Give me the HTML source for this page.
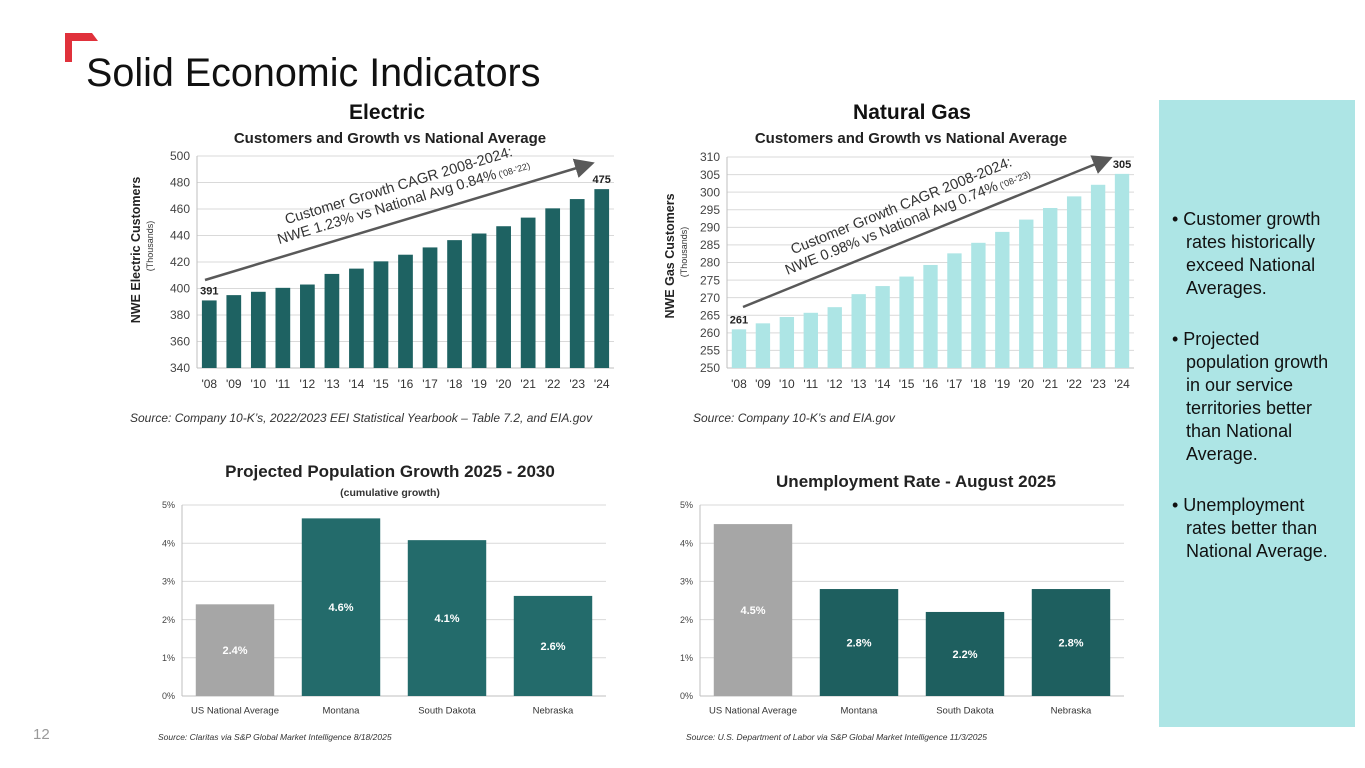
<!DOCTYPE html>
<html><head><meta charset="utf-8"><style>
body{margin:0;width:1365px;height:768px;background:#fff;position:relative;overflow:hidden;font-family:"Liberation Sans",sans-serif}
.abs{position:absolute}
svg text{font-family:"Liberation Sans",sans-serif}
</style></head><body>
<svg class="abs" style="left:0;top:0" width="1365" height="768">
<polygon points="65,33 92,33 98,41 72,41 72,62 65,62" fill="#e0313b"/>
<text x="86" y="86" font-size="39.5" fill="#111">Solid Economic Indicators</text>
<text x="33" y="739" font-size="15" fill="#999">12</text>
<rect x="1159" y="100" width="196" height="627" fill="#ade5e5"/>
<g id="charts"></g>
</svg>
<div class="abs" style="left:1172px;top:208px;width:168px;font-size:18px;line-height:23px;color:#111">
<div style="padding-left:14px;text-indent:-14px">• Customer growth rates historically exceed National Averages.</div>
<div style="padding-left:14px;text-indent:-14px;margin-top:28px">• Projected population growth in our service territories better than National Average.</div>
<div style="padding-left:14px;text-indent:-14px;margin-top:28px">• Unemployment rates better than National Average.</div>
</div>
<script>
const years=["'08","'09","'10","'11","'12","'13","'14","'15","'16","'17","'18","'19","'20","'21","'22","'23","'24"];
const elecValues=[391,395,397.5,400.5,403,411,415,420.5,425.5,431,436.5,441.5,447,453.5,460.5,467.5,475];
const elecTicks=[340,360,380,400,420,440,460,480,500];
const gasValues=[261,262.7,264.5,265.7,267.3,271,273.3,276,279.3,282.6,285.6,288.7,292.2,295.5,298.8,302.1,305.2];
const gasTicks=[250,255,260,265,270,275,280,285,290,295,300,305,310];
const popCats=["US National Average","Montana","South Dakota","Nebraska"];
const popValues=[2.4,4.65,4.08,2.62];
const popLabels=["2.4%","4.6%","4.1%","2.6%"];
const unempCats=["US National Average","Montana","South Dakota","Nebraska"];
const unempValues=[4.5,2.8,2.2,2.8];
const unempLabels=["4.5%","2.8%","2.2%","2.8%"];
const pctTicks=[0,1,2,3,4,5];
const NS='http://www.w3.org/2000/svg';
const root=document.getElementById('charts');
function mk(tag,attrs,parent,txt){const e=document.createElementNS(NS,tag);for(const k in attrs)e.setAttribute(k,attrs[k]);if(txt!==undefined)e.textContent=txt;(parent||root).appendChild(e);return e;}
function chart(o){
  const g=mk('g',{});
  
  
  const lo=o.ticks[0],hi=o.ticks[o.ticks.length-1];
  const y=v=>o.y0-(v-lo)/(hi-lo)*(o.y0-o.y1);
  const n=o.cats.length,step=(o.x1-o.x0)/n;
  const x=i=>o.x0+step*i+step/2;
  o.ticks.forEach((t,i)=>{
    if(i>0){const l=mk('line',{x1:o.x0,x2:o.x1,y1:y(t),y2:y(t),stroke:'#d9d9d9','stroke-width':1},g);}
    const tx=mk('text',{x:o.x0-7,y:y(t)+o.tfs*0.35,'text-anchor':'end','font-size':o.tfs,fill:'#444'},g,o.tickFmt(t));
    
  });
  const ax=mk('line',{x1:o.x0,x2:o.x1,y1:o.y0,y2:o.y0,stroke:'#bfbfbf'},g);
  const ay=mk('line',{x1:o.x0,x2:o.x0,y1:o.y0,y2:o.y1,stroke:'#bfbfbf'},g);
  o.cats.forEach((c,i)=>{
    const v=o.values[i],bw=step*o.bwr;
    const r=mk('rect',{x:x(i)-bw/2,y:y(v),width:bw,height:o.y0-y(v),fill:o.color(i)},g);
    
    const t=mk('text',{x:x(i),y:o.y0+o.cfs+8,'text-anchor':'middle','font-size':o.cfs,fill:'#333'},g,c);
    
    if(o.labels){const l=mk('text',{x:x(i),y:(y(v)+o.y0)/2+4,'text-anchor':'middle','font-size':11,'font-weight':'bold',fill:'#fff'},g,o.labels[i]);}
    if(o.endLabels&&(i===0||i===n-1)){const l=mk('text',{x:x(i),y:y(v)-6,'text-anchor':'middle','font-size':11,'font-weight':'bold',fill:'#222'},g,String(Math.round(v)));}
  });
  return {g,x,y};
}
const teal='#1e6262';
const e=chart({name:'electric-chart',cats:years,values:elecValues,ticks:elecTicks,x0:197,x1:614,y0:368,y1:156,bwr:0.6,color:()=>teal,tfs:12,cfs:12,tickFmt:t=>t,endLabels:true});
const gs=chart({name:'gas-chart',cats:years,values:gasValues,ticks:gasTicks,x0:727,x1:1134,y0:368,y1:157,bwr:0.6,color:()=>'#ade5e5',tfs:12,cfs:12,tickFmt:t=>t,endLabels:true});
const p=chart({name:'population-chart',cats:popCats,values:popValues,ticks:pctTicks,x0:182,x1:606,y0:696,y1:505,bwr:0.74,color:i=>i===0?'#a6a6a6':'#236b6b',tfs:9,cfs:9.5,tickFmt:t=>t+'%',labels:popLabels});
const u=chart({name:'unemployment-chart',cats:unempCats,values:unempValues,ticks:pctTicks,x0:700,x1:1124,y0:696,y1:505,bwr:0.74,color:i=>i===0?'#a6a6a6':'#1e5f5f',tfs:9,cfs:9.5,tickFmt:t=>t+'%',labels:unempLabels});
</script>
<svg class="abs" style="left:0;top:0" width="1365" height="768">
<defs><marker id="ah" markerWidth="8" markerHeight="8" refX="6" refY="4" orient="auto"><path d="M0,0 L8,4 L0,8 z" fill="#595959"/></marker></defs>
<text x="387" y="119" font-size="21" font-weight="bold" text-anchor="middle" fill="#111">Electric</text>
<text x="390" y="143" font-size="15" font-weight="bold" text-anchor="middle" fill="#222">Customers and Growth vs National Average</text>
<text x="912" y="119" font-size="21" font-weight="bold" text-anchor="middle" fill="#111">Natural Gas</text>
<text x="911" y="143" font-size="15" font-weight="bold" text-anchor="middle" fill="#222">Customers and Growth vs National Average</text>
<text transform="translate(140,250) rotate(-90)" font-size="12.5" font-weight="bold" text-anchor="middle" fill="#222">NWE Electric Customers</text>
<text transform="translate(153,246) rotate(-90)" font-size="9" text-anchor="middle" fill="#333">(Thousands)</text>
<text transform="translate(674,256) rotate(-90)" font-size="12.5" font-weight="bold" text-anchor="middle" fill="#222">NWE Gas Customers</text>
<text transform="translate(687,252) rotate(-90)" font-size="9" text-anchor="middle" fill="#333">(Thousands)</text>
<line x1="205" y1="280" x2="590" y2="164" stroke="#595959" stroke-width="2.5" marker-end="url(#ah)"/>
<g transform="translate(400,190) rotate(-16.8)"><text x="0" y="0" font-size="14.5" text-anchor="middle" fill="#333">Customer Growth CAGR 2008-2024:</text><text x="0" y="17" font-size="14.5" text-anchor="middle" fill="#333">NWE 1.23% vs National Avg 0.84%<tspan font-size="9"> ('08-'22)</tspan></text></g>
<line x1="743" y1="307" x2="1108" y2="159" stroke="#595959" stroke-width="2.5" marker-end="url(#ah)"/>
<g transform="translate(903,210) rotate(-22)"><text x="0" y="0" font-size="14.5" text-anchor="middle" fill="#333">Customer Growth CAGR 2008-2024:</text><text x="0" y="17" font-size="14.5" text-anchor="middle" fill="#333">NWE 0.98% vs National Avg 0.74%<tspan font-size="9"> ('08-'23)</tspan></text></g>
<text x="130" y="422" font-size="12" font-style="italic" fill="#333">Source: Company 10-K’s, 2022/2023 EEI Statistical Yearbook – Table 7.2, and EIA.gov</text>
<text x="693" y="422" font-size="12" font-style="italic" fill="#333">Source: Company 10-K’s and EIA.gov</text>
<text x="390" y="477" font-size="17" font-weight="bold" text-anchor="middle" fill="#222">Projected Population Growth 2025 - 2030</text>
<text x="390" y="496" font-size="10.5" font-weight="bold" text-anchor="middle" fill="#333">(cumulative growth)</text>
<text x="916" y="487" font-size="17" font-weight="bold" text-anchor="middle" fill="#222">Unemployment Rate - August 2025</text>
<text x="158" y="740" font-size="8.5" font-style="italic" fill="#333">Source: Claritas via S&amp;P Global Market Intelligence 8/18/2025</text>
<text x="686" y="740" font-size="8.5" font-style="italic" fill="#333">Source: U.S. Department of Labor via S&amp;P Global Market Intelligence 11/3/2025</text>
</svg>
</body></html>
